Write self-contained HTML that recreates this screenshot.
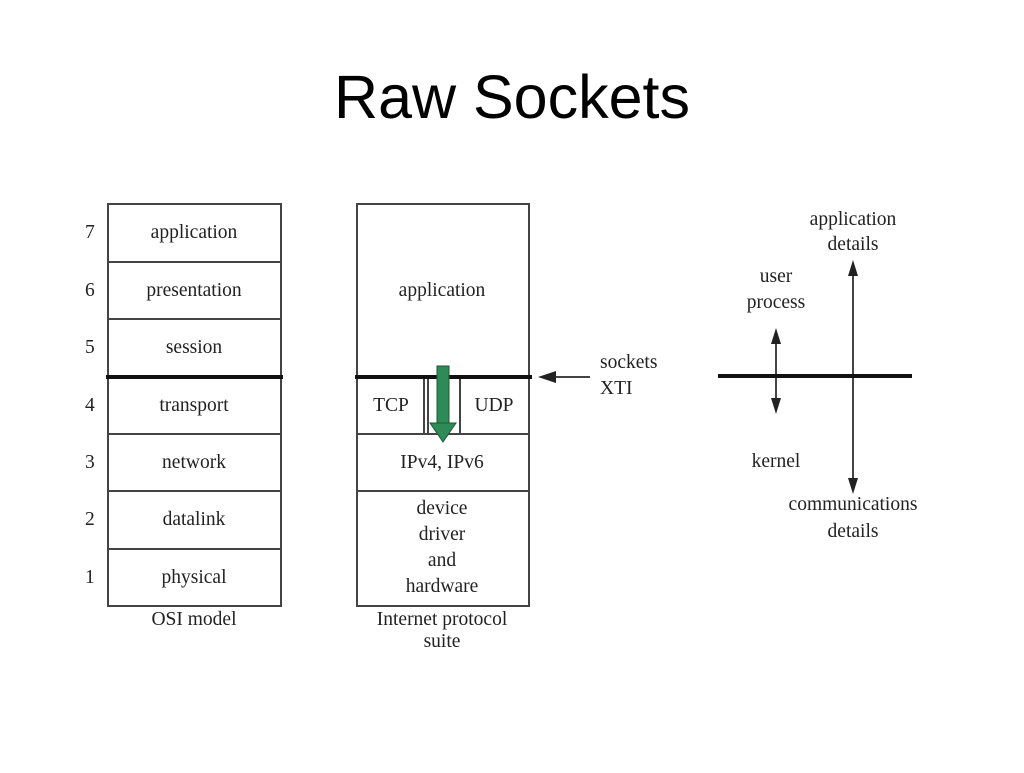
<!DOCTYPE html>
<html><head><style>
body{margin:0;width:1024px;height:768px;background:#fff;overflow:hidden}
</style></head><body>
<svg width="1024" height="768" xmlns="http://www.w3.org/2000/svg">
<text x="512" y="118" font-family="Liberation Sans, sans-serif" font-size="61" text-anchor="middle" fill="#000">Raw Sockets</text>
<g font-family="Liberation Serif, serif" font-size="19.5" fill="#222" text-anchor="middle">
<g stroke="#444" stroke-width="2" fill="none">
<rect x="108" y="204" width="173" height="402"/>
<line x1="108" y1="262" x2="281" y2="262"/><line x1="108" y1="319" x2="281" y2="319"/>
<line x1="108" y1="434" x2="281" y2="434"/><line x1="108" y1="491" x2="281" y2="491"/><line x1="108" y1="549" x2="281" y2="549"/>
<rect x="357" y="204" width="172" height="402"/>
<line x1="357" y1="434" x2="529" y2="434"/><line x1="357" y1="491" x2="529" y2="491"/>
<line x1="424" y1="377" x2="424" y2="434"/><line x1="428" y1="377" x2="428" y2="434"/><line x1="460" y1="377" x2="460" y2="434"/>
<line x1="776" y1="340" x2="776" y2="402"/><line x1="853" y1="272" x2="853" y2="482"/>
<line x1="550" y1="377" x2="590" y2="377"/>
</g>
<g stroke="#111" stroke-width="4"><line x1="106" y1="377" x2="283" y2="377"/><line x1="355" y1="377" x2="532" y2="377"/><line x1="718" y1="376" x2="912" y2="376"/></g>
<g fill="#222"><polygon points="538,377 556,371 556,383"/>
<polygon points="776,328 771,344 781,344"/><polygon points="776,414 771,398 781,398"/>
<polygon points="853,260 848,276 858,276"/><polygon points="853,494 848,478 858,478"/></g>
<rect x="437" y="366" width="12" height="58" fill="#2e8b57" stroke="#1a5a35"/>
<polygon points="430,423 456,423 443,442" fill="#2e8b57" stroke="#1a5a35"/>
<text x="194" y="238">application</text><text x="194" y="296">presentation</text><text x="194" y="353">session</text>
<text x="194" y="411">transport</text><text x="194" y="468">network</text><text x="194" y="525">datalink</text><text x="194" y="583">physical</text>
<g text-anchor="start"><text x="85" y="238">7</text><text x="85" y="296">6</text><text x="85" y="353">5</text><text x="85" y="411">4</text><text x="85" y="468">3</text><text x="85" y="525">2</text><text x="85" y="583">1</text>
<text x="600" y="368">sockets</text><text x="600" y="394">XTI</text></g>
<text x="194" y="625">OSI model</text>
<text x="442" y="296">application</text><text x="391" y="411">TCP</text><text x="494" y="411">UDP</text>
<text x="442" y="468">IPv4, IPv6</text>
<text x="442" y="514">device</text><text x="442" y="540">driver</text><text x="442" y="566">and</text><text x="442" y="592">hardware</text>
<text x="442" y="625">Internet protocol</text><text x="442" y="647">suite</text>
<text x="853" y="225">application</text><text x="853" y="250">details</text>
<text x="776" y="282">user</text><text x="776" y="308">process</text>
<text x="776" y="467">kernel</text>
<text x="853" y="510">communications</text><text x="853" y="537">details</text>
</g>
</svg>
</body></html>
